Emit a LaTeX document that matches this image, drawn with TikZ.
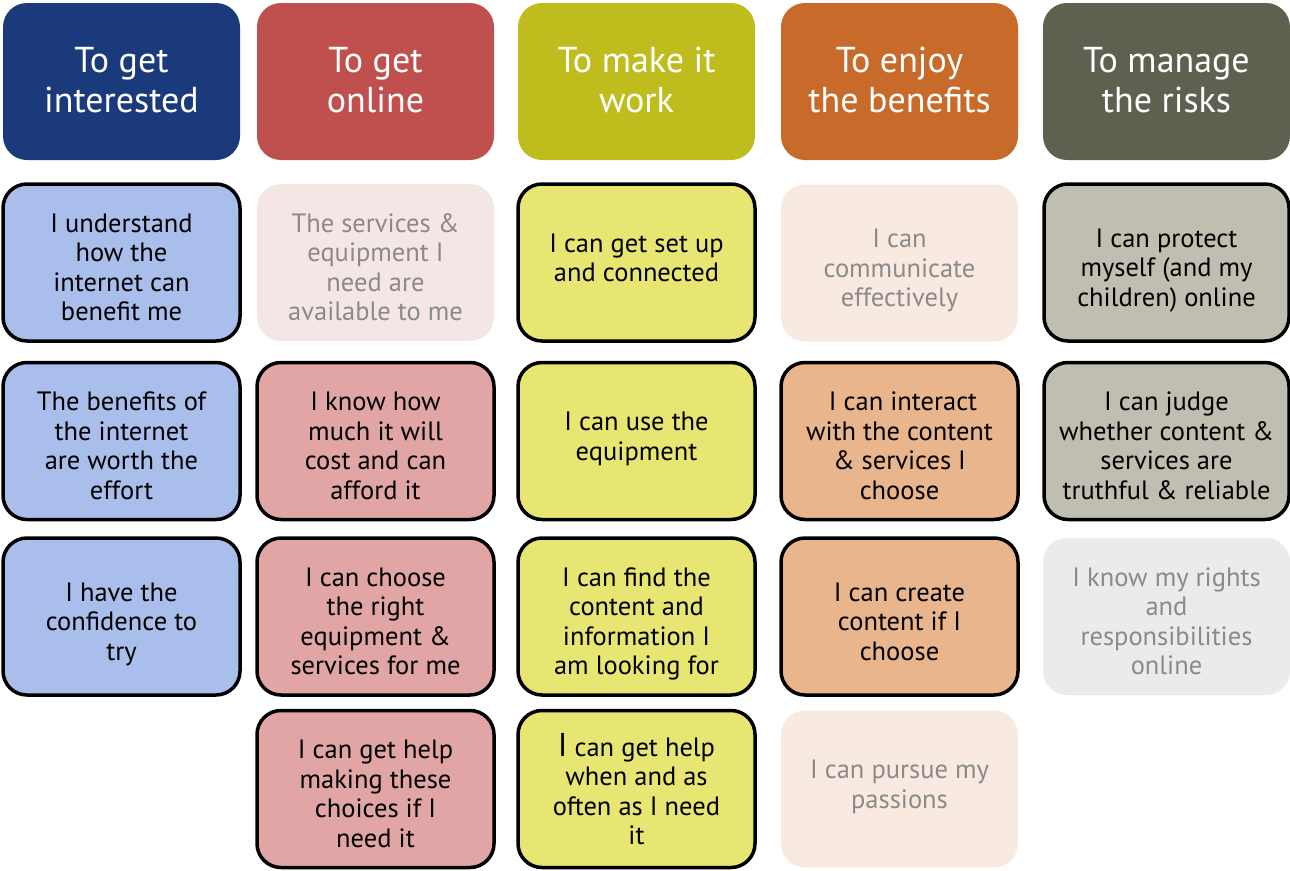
\documentclass[tikz,border=0pt]{standalone}
\usepackage{fontspec}
\setmainfont{PT Sans}

\definecolor{hdblue}{HTML}{1B3A7B}
\definecolor{hdred}{HTML}{C0504E}
\definecolor{hdolive}{HTML}{BFBD1E}
\definecolor{hdorange}{HTML}{C86A29}
\definecolor{hdgrey}{HTML}{5F604F}
\definecolor{fblue}{HTML}{AABEEC}
\definecolor{fred}{HTML}{E1A5A5}
\definecolor{fredpale}{HTML}{F5E6E6}
\definecolor{fyellow}{HTML}{E8E672}
\definecolor{forange}{HTML}{E9B58C}
\definecolor{forangepale}{HTML}{F8EAE1}
\definecolor{fgrey}{HTML}{BFBEB1}
\definecolor{fgreypale}{HTML}{EBEBE9}
\definecolor{fadetext}{HTML}{8A8A8A}

\tikzset{
  card/.style={rounded corners=24pt, minimum width=237pt, minimum height=157pt,
    align=center, inner sep=0pt, font=\fontsize{26.5}{29.5}\selectfont,
    text depth=0pt},
  % text blocks sit a bit low in the cards, two-liners a bit high
  four/.style={text height=116.5pt},
  three/.style={text height=87pt},
  rise/.style={text depth=10pt},
  head/.style={card, text=white, font=\fontsize{36}{40}\selectfont,
    text depth=4pt},
  strong/.style={draw=black, line width=3.5pt},
  pale/.style={text=fadetext},
}

\begin{document}
\begin{tikzpicture}[x=1pt, y=-1pt]
            \useasboundingbox (0,0) rectangle (1290,870);

            % headings
            \node[head, fill=hdblue] (H1) at (121.5,81.5) {To get\\interested};
            \node[head, fill=hdred] (H2) at (375.5,81.5) {To get\\online};
            \node[head, fill=hdolive] (H3) at (636.5,81.5) {To make it\\work};
            \node[head, fill=hdorange] (H4) at (899.5,81.5) {To enjoy\\the benefits};
            \node[head, fill=hdgrey, minimum width=247pt] (H5) at (1166.5,81.5) {To manage\\the risks};

            % first column
            \node[card, four, strong, fill=fblue] (A1) at (121.5,262.5) {I understand\\how the\\internet can\\benefit me};
            \node[card, four, strong, fill=fblue] (A2) at (121.5,441) {The benefits of\\the internet\\are worth the\\effort};
            \node[card, three, strong, fill=fblue] (A3) at (121.5,616.5) {I have the\\confidence to\\try};

            % second column
            \node[card, four, pale, fill=fredpale] (B1) at (375.5,262.5) {The services \&\\equipment I\\need are\\available to me};
            \node[card, four, strong, fill=fred] (B2) at (375.5,441) {I know how\\much it will\\cost and can\\afford it};
            \node[card, four, strong, fill=fred] (B3) at (375.5,616.5) {I can choose\\the right\\equipment \&\\services for me};
            \node[card, four, strong, fill=fred] (B4) at (375.5,789) {I can get help\\making these\\choices if I\\need it};

            % third column
            \node[card, rise, strong, fill=fyellow] (C1) at (636.5,262.5) {I can get set up\\and connected};
            \node[card, rise, strong, fill=fyellow] (C2) at (636.5,441) {I can use the\\equipment};
            \node[card, four, strong, fill=fyellow] (C3) at (636.5,616.5) {I can find the\\content and\\information I\\am looking for};
            \node[card, strong, fill=fyellow] (C4) at (636.5,789) {{\fontsize{33}{29.5}\selectfont I} can get help\\when and as\\often as I need\\it};

            % fourth column
            \node[card, three, pale, fill=forangepale] (D1) at (899.5,263) {I can\\communicate\\effectively};
            \node[card, four, strong, fill=forange] (D2) at (899.5,441) {\ I can interact\\with the content\\\& services I\\choose};
            \node[card, three, strong, fill=forange] (D3) at (899.5,616.5) {I can create\\content if I\\choose};
            \node[card, rise, pale, fill=forangepale] (D4) at (899.5,789) {I can pursue my\\passions};

            % fifth column
            \node[card, three, strong, fill=fgrey, minimum width=245pt] (E1) at (1166.5,262.5) {I can protect\\myself (and my\\children) online};
            \node[card, four, strong, fill=fgrey, minimum width=245pt] (E2) at (1166.5,441) {I can judge\\whether content \&\\services are\\truthful \& reliable};
            \node[card, four, pale, fill=fgreypale, minimum width=247pt] (E3) at (1166.5,616.5) {I know my rights\\and\\responsibilities\\online};
        \end{tikzpicture}
\end{document}
